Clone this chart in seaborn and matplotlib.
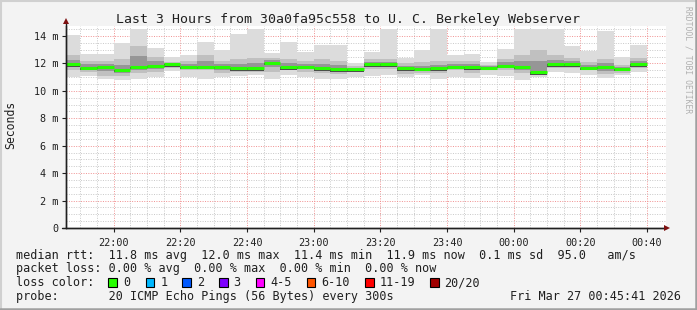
import numpy as np
import pandas as pd
import matplotlib
matplotlib.use("Agg")
import matplotlib.pyplot as plt
from matplotlib.patches import Rectangle
from matplotlib.lines import Line2D
import seaborn as sns

# ---------------- data (values in milliseconds) ----------------
start_min = 21 * 60 + 45 + 41 / 60.0   # 21:45:41
end_min = start_min + 180.0            # 00:45:41
bin_ends = list(range(1310, 1481, 5))  # 5-minute rrd steps (minutes since previous midnight)

median = [11.94, 11.69, 11.76, 11.52, 11.76, 11.84, 11.94, 11.76, 11.76, 11.76,
          11.64, 11.64, 12.04, 11.72, 11.74, 11.64, 11.57, 11.57, 11.93, 11.93,
          11.64, 11.59, 11.64, 11.76, 11.72, 11.69, 11.84, 11.76, 11.35, 11.93,
          11.93, 11.69, 11.74, 11.59, 11.93]
rtt_min = [10.99, 11.08, 10.86, 10.79, 10.86, 10.99, 11.47, 10.99, 10.86, 10.99,
           11.08, 11.16, 10.84, 11.16, 10.99, 10.84, 10.84, 11.03, 11.08, 11.16,
           10.99, 11.16, 10.84, 10.99, 10.91, 11.16, 11.08, 10.79, 10.99, 11.40,
           11.28, 11.16, 10.91, 11.16, 11.40]
rtt_max = [14.07, 12.69, 12.69, 13.47, 14.51, 13.10, 12.45, 12.61, 13.54, 12.98,
           14.15, 14.51, 12.74, 13.54, 12.86, 13.34, 13.34, 12.00, 12.81, 14.51,
           12.37, 12.98, 14.51, 12.61, 12.66, 12.13, 13.03, 14.51, 14.51, 14.51,
           13.30, 12.93, 14.36, 12.49, 13.34]
rtt_q1 = [11.5, 11.4, 11.1, 11.1, 11.3, 11.4, 11.7, 11.5, 11.5, 11.3,
          11.4, 11.4, 11.4, 11.5, 11.4, 11.3, 11.2, 11.4, 11.6, 11.6,
          11.2, 11.3, 11.3, 11.5, 11.3, 11.5, 11.5, 11.3, 11.2, 11.7,
          11.7, 11.5, 11.2, 11.3, 11.7]
rtt_q3 = [12.6, 12.2, 12.2, 12.3, 13.3, 12.5, 12.1, 12.2, 12.6, 12.2,
          12.3, 12.4, 12.4, 12.3, 12.2, 12.3, 12.2, 11.8, 12.3, 12.3,
          12.0, 12.1, 12.2, 12.2, 12.2, 11.9, 12.3, 12.6, 13.0, 12.6,
          12.4, 12.1, 12.3, 11.9, 12.4]

ytick_vals = [0, 2, 4, 6, 8, 10, 12, 14]
ytick_labels = ["0", "2 m", "4 m", "6 m", "8 m", "10 m", "12 m", "14 m"]
xtick_vals = [1320, 1340, 1360, 1380, 1400, 1420, 1440, 1460, 1480]
xtick_labels = ["22:00", "22:20", "22:40", "23:00", "23:20", "23:40", "00:00", "00:20", "00:40"]

loss_labels = ["0", "1", "2", "3", "4-5", "6-10", "11-19", "20/20"]
loss_colors = ["#26ff00", "#00b8ff", "#0059ff", "#7e00ff", "#ff00ff", "#ff5500", "#ff0000", "#a10000"]

title = "Last 3 Hours from 30a0fa95c558 to U. C. Berkeley Webserver"
line1 = "median rtt:  11.8 ms avg  12.0 ms max  11.4 ms min  11.9 ms now  0.1 ms sd  95.0   am/s"
line2 = "packet loss: 0.00 % avg  0.00 % max  0.00 % min  0.00 % now"
line3 = "loss color:"
line4 = "probe:       20 ICMP Echo Pings (56 Bytes) every 300s"
stamp = "Fri Mar 27 00:45:41 2026"

# ---------------- figure ----------------
sns.set_theme(style="white")
plt.rcParams["font.family"] = ["DejaVu Sans Mono", "DejaVu Sans"]

W, H = 697, 310
fig = plt.figure(figsize=(W / 100, H / 100), dpi=100, facecolor="#f3f3f3")

def fx(px):
    return px / W

def fy(py):
    return 1 - py / H

ax_l, ax_r, ax_t, ax_b = 66, 666, 26, 228
ax = fig.add_axes([fx(ax_l), fy(ax_b), (ax_r - ax_l) / W, (ax_b - ax_t) / H])
ax.set_facecolor("white")

px_per_ms = 13.714
ymax = (ax_b - ax_t) / px_per_ms
ax.set_xlim(start_min, end_min)
ax.set_ylim(0, ymax)

edges = np.array([start_min] + bin_ends, dtype=float)
left = edges[:-1]
width = np.diff(edges)
med = np.array(median)
lo = np.array(rtt_min)
hi = np.array(rtt_max)
q1 = np.array(rtt_q1)
q3 = np.array(rtt_q3)

layers = [
    (lo, hi, "#dcdcdc"),
    (q1, q3, "#c0c0c0"),
    ((q1 + med) / 2, (q3 + med) / 2, "#969696"),
    (med - 0.17, med, "#4c4c4c"),
]
for b, t, c in layers:
    ax.bar(left, t - b, bottom=b, width=width, align="edge", color=c,
           linewidth=0, zorder=2)

# median line via seaborn (one short horizontal segment per step)
df = pd.DataFrame({
    "t": np.concatenate([left, left + width]),
    "rtt": np.concatenate([med, med]),
    "step": np.concatenate([np.arange(len(med)), np.arange(len(med))]),
})
sns.lineplot(data=df, x="t", y="rtt", units="step", estimator=None,
             color=loss_colors[0], linewidth=2.2, ax=ax, zorder=4,
             solid_capstyle="butt")
ax.set_xlabel("")
ax.set_ylabel("")

# grid
ax.set_xticks(xtick_vals)
ax.set_xticklabels(xtick_labels)
ax.set_xticks(np.arange(1310, 1485, 5), minor=True)
ax.set_yticks(ytick_vals)
ax.set_yticklabels(ytick_labels)
ax.set_yticks(np.arange(0, 14.6, 0.5), minor=True)
ax.set_axisbelow(True)
ax.grid(which="minor", color="#c8c8c8", linestyle=(0, (1, 1.5)), linewidth=0.7, zorder=1)
ax.grid(which="major", color="#f09090", linestyle=(0, (1, 1.5)), linewidth=0.7, zorder=1)

for s in ["top", "right"]:
    ax.spines[s].set_visible(False)
for s in ["left", "bottom"]:
    ax.spines[s].set_color("#202020")
    ax.spines[s].set_linewidth(1.0)
    ax.spines[s].set_zorder(5)

ax.tick_params(axis="both", which="major", length=3, width=0.8, color="#202020",
               labelsize=7.3, labelcolor="#202020", pad=2.5)
ax.tick_params(axis="both", which="minor", length=0)
ax.tick_params(axis="x", which="major", pad=4)
ax.tick_params(left=True, bottom=True)

# axis arrows
fig.add_artist(Line2D([fx(ax_l), fx(ax_l)], [fy(ax_b), fy(23)], color="#202020", lw=1.0))
fig.add_artist(Line2D([fx(62), fx(664)], [fy(ax_b), fy(ax_b)], color="#202020", lw=1.0))
fig.add_artist(Line2D([fx(ax_l)], [fy(21)], marker="^", markersize=4.5, color="#7d1010",
                      markeredgewidth=0))
fig.add_artist(Line2D([fx(667)], [fy(ax_b)], marker=">", markersize=4.5, color="#7d1010",
                      markeredgewidth=0))

# title, labels
fig.text(fx(348), fy(19), title, ha="center", va="center", fontsize=9.5, color="#202020")
fig.text(fx(11), fy(125), "Seconds", ha="center", va="center", rotation=90,
         fontsize=8.3, color="#202020")
fig.text(fx(688), fy(60), "RRDTOOL / TOBI OETIKER", ha="center", va="center",
         rotation=270, fontsize=5.8, color="#b0b0b0")

# legend block
fs = 8.5
x0 = 16
fig.text(fx(x0), fy(255), line1, ha="left", va="center", fontsize=fs, color="#202020")
fig.text(fx(x0), fy(268.5), line2, ha="left", va="center", fontsize=fs, color="#202020")
fig.text(fx(x0), fy(282.5), line3, ha="left", va="center", fontsize=fs, color="#202020")
fig.text(fx(x0), fy(296.5), line4, ha="left", va="center", fontsize=fs, color="#202020")
fig.text(fx(681), fy(296.5), stamp, ha="right", va="center", fontsize=fs, color="#202020")

box_x = [108.3, 145.7, 182.3, 219, 255.7, 306.7, 365, 430]
for bx, lab, col in zip(box_x, loss_labels, loss_colors):
    fig.add_artist(Rectangle((fx(bx), fy(286.7)), 8.5 / W, 9 / H, facecolor=col,
                             edgecolor="#000000", linewidth=0.8))
    fig.text(fx(bx + 14.5), fy(282.5), lab, ha="left", va="center", fontsize=fs,
             color="#202020")

# image frame
fig.add_artist(Line2D([0, 1], [fy(0.5), fy(0.5)], color="#d0d0d0", lw=1.5))
fig.add_artist(Line2D([fx(0.5), fx(0.5)], [0, 1], color="#d0d0d0", lw=1.5))
fig.add_artist(Line2D([0, 1], [fy(309), fy(309)], color="#a0a0a0", lw=1.8))
fig.add_artist(Line2D([fx(696), fx(696)], [0, 1], color="#a0a0a0", lw=1.8))

fig.savefig("out.png", dpi=100, facecolor=fig.get_facecolor())
